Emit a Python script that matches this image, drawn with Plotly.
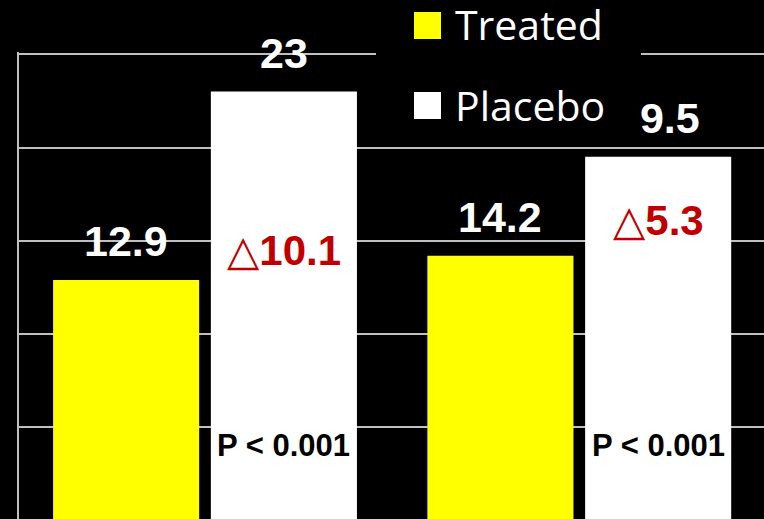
import plotly.graph_objects as go

# ---- data -------------------------------------------------------------
categories = ["Endpoint 1", "Endpoint 2"]
treated = [12.9, 14.2]
placebo = [23, 19.5]
p_labels = ["P < 0.001", "P < 0.001"]
series_names = ["Treated", "Placebo"]

# ---- styling / layout constants --------------------------------------
YELLOW = "#FFFF00"
WHITE = "#FFFFFF"
RED = "#C00000"
GRID = "#BFBFBF"
NUM_FONT = "Liberation Sans, Arial, DejaVu Sans, sans-serif"
LEGEND_FONT = "Open Sans, Noto Sans, sans-serif"

BAR_GAP = 0.157
GROUP_GAP = 0.074
W, H = 764, 519
M_L, M_T = 19, 52
PLOT_W, PLOT_H = W - M_L, H - M_T

# vertical placement (data units) of the in-bar annotations
delta_label_y = [14.5, 16.1]
p_label_y = [4.0, 4.0]

# half a bar slot: centre offset of each bar inside its group
slot = (1 - BAR_GAP) / 2
off_treated, off_placebo = -slot / 2, slot / 2


def px_x(px):
    return (px - M_L) / PLOT_W


def px_y(py):
    return 1 - (py - M_T) / PLOT_H


fig = go.Figure()
fig.add_bar(x=categories, y=treated, name=series_names[0],
            marker=dict(color=YELLOW, line_width=0))
fig.add_bar(x=categories, y=placebo, name=series_names[1],
            marker=dict(color=WHITE, line_width=0))

ann = []
# value labels above the bars
for i, (t, p) in enumerate(zip(treated, placebo)):
    for v, off in ((t, off_treated), (p, off_placebo)):
        ann.append(dict(x=i + off, y=v, xref="x", yref="y",
                        text=f"<b>{v:g}</b>", showarrow=False,
                        yanchor="bottom", xanchor="center", yshift=14,
                        borderpad=0,
                        font=dict(family=NUM_FONT, size=43, color=WHITE)))

# difference and p-value labels inside the placebo bars
for i, (t, p) in enumerate(zip(treated, placebo)):
    diff = round(p - t, 1)
    ann.append(dict(x=i + off_placebo, y=delta_label_y[i], xref="x", yref="y",
                    text=f"<b>\u25b3{diff:g}</b>", showarrow=False,
                    yanchor="middle", xanchor="center", borderpad=0,
                    font=dict(family=NUM_FONT, size=42, color=RED)))
    ann.append(dict(x=i + off_placebo, y=p_label_y[i], xref="x", yref="y",
                    text=f"<b>{p_labels[i]}</b>", showarrow=False,
                    yanchor="middle", xanchor="center", borderpad=0,
                    font=dict(family=NUM_FONT, size=31, color="#000000")))

# legend panel: black box, colour swatches and series names
ann.append(dict(x=px_x(376), y=px_y(0), xref="paper", yref="paper",
                xanchor="left", yanchor="top", text=" ", showarrow=False,
                width=265, height=142, bgcolor="#000000",
                borderpad=0, borderwidth=0))
for name, color, top, mid in ((series_names[0], YELLOW, 12, 24),
                              (series_names[1], WHITE, 92, 105)):
    ann.append(dict(x=px_x(414), y=px_y(top), xref="paper", yref="paper",
                    xanchor="left", yanchor="top", text=" ", showarrow=False,
                    width=27, height=27, bgcolor=color,
                    borderpad=0, borderwidth=0))
    ann.append(dict(x=px_x(454), y=px_y(mid), xref="paper", yref="paper",
                    xanchor="left", yanchor="middle", text=name,
                    showarrow=False, borderpad=0,
                    font=dict(family=LEGEND_FONT, size=41, color=WHITE)))

fig.update_layout(
    width=W, height=H,
    margin=dict(l=M_L, r=0, t=M_T, b=0, pad=0),
    paper_bgcolor="#000000", plot_bgcolor="#000000",
    barmode="group", bargap=BAR_GAP, bargroupgap=GROUP_GAP,
    showlegend=False,
    annotations=ann,
    xaxis=dict(range=[-0.497, 1.4935], showticklabels=False, showgrid=False,
               zeroline=False, showline=False, ticks=""),
    yaxis=dict(range=[0.083, 25.123], tick0=0, dtick=5, showgrid=True,
               gridcolor=GRID, gridwidth=2, showline=True, linecolor=GRID,
               linewidth=2, showticklabels=False, zeroline=False, ticks=""),
)

fig.write_html("out.html")
